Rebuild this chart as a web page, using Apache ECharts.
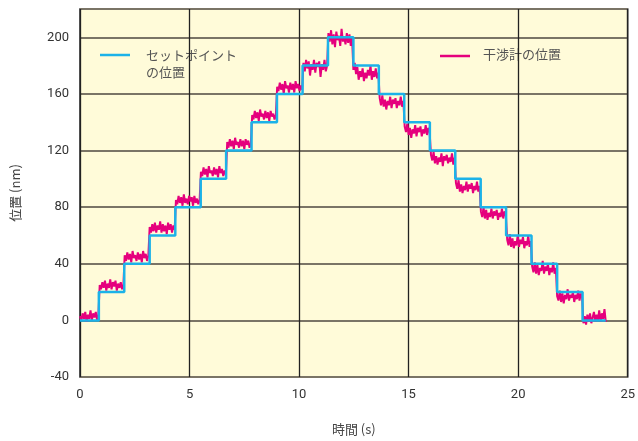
<!DOCTYPE html>
<html>
<head>
<meta charset="utf-8">
<script src="https://cdn.jsdelivr.net/npm/echarts@6/dist/echarts.min.js"></script>
<style>
  html, body { margin: 0; padding: 0; background: #ffffff; }
  #chart { width: 638px; height: 441px; }
</style>
</head>
<body>
<div id="chart"></div>
<script>
// Set-point staircase: time (s) of each 20 nm step and the level held after it
const stepTimes = [0.86, 2.02, 3.18, 4.35, 5.51, 6.67, 7.83, 8.99, 10.16, 11.32,
                   12.48, 13.64, 14.80, 15.97, 17.13, 18.29, 19.45, 20.61, 21.78, 22.94];
const stepLevels = [0, 20, 40, 60, 80, 100, 120, 140, 160, 180, 200,
                    180, 160, 140, 120, 100, 80, 60, 40, 20, 0];
const endTime = 24.0;

// Interferometer readings (nm), sampled every 0.06 s from t = 0
const sampleStep = 0.06;
const interferometer = [
  3, 0, 5, 1, 6, -1, 4, 1, 7, 0, 5, 2, 6, 0, 4,
  25, 22, 27, 23, 28, 21, 26, 23, 29, 22, 27, 24, 28, 21, 26, 23, 27, 22, 25,
  46, 42, 48, 43, 47, 41, 49, 44, 46, 42, 48, 43, 47, 41, 49, 44, 47, 42, 46,
  66, 62, 68, 63, 69, 62, 67, 64, 70, 62, 68, 63, 67, 61, 69, 64, 68, 62, 67, 64,
  85, 82, 88, 83, 87, 81, 89, 83, 86, 82, 88, 84, 87, 81, 88, 83, 86, 82, 85,
  105, 102, 108, 103, 107, 101, 109, 104, 106, 102, 108, 103, 107, 101, 109, 104, 107, 102, 106, 103,
  126, 122, 128, 123, 127, 121, 129, 124, 126, 122, 128, 123, 127, 121, 128, 124, 127, 122, 125,
  145, 142, 148, 143, 147, 141, 149, 144, 146, 142, 148, 143, 147, 141, 148, 144, 146, 142, 145,
  165, 162, 168, 163, 167, 160, 169, 164, 166, 161, 168, 163, 167, 161, 169, 164, 167, 162, 166, 163,
  182, 176, 184, 178, 183, 173, 181, 177, 184, 175, 182, 179, 183, 172, 181, 177, 184, 176, 180,
  203, 197, 205, 195, 202, 193, 204, 198, 201, 194, 206, 197, 200, 195, 203, 196, 202, 194, 199,
  177, 182, 174, 179, 170, 176, 172, 178, 169, 175, 171, 177, 173, 180, 170, 176, 172, 178, 171, 175,
  157, 152, 159, 151, 156, 149, 155, 152, 158, 150, 156, 153, 157, 150, 155, 152, 158, 151, 155,
  137, 133, 139, 131, 136, 129, 135, 132, 138, 130, 136, 133, 137, 130, 135, 132, 138, 131, 136, 133,
  117, 113, 119, 111, 116, 110, 115, 112, 118, 109, 116, 113, 117, 111, 115, 112, 118, 110, 115,
  97, 93, 99, 91, 96, 90, 95, 92, 98, 91, 96, 93, 97, 90, 95, 92, 98, 91, 95,
  77, 73, 80, 72, 78, 71, 76, 73, 79, 72, 77, 74, 78, 71, 76, 73, 79, 72, 77, 74,
  57, 53, 61, 52, 58, 51, 56, 53, 60, 52, 57, 54, 59, 51, 56, 53, 60, 52, 56,
  38, 34, 41, 33, 39, 32, 37, 35, 42, 33, 38, 35, 40, 32, 37, 34, 41, 33, 37,
  17, 14, 21, 13, 19, 12, 18, 15, 22, 14, 18, 16, 20, 13, 18, 15, 21, 14, 19, 16,
  -2, 3, -3, 4, -1, 5, -2, 2, 6, -1, 4, 0, 7, -1, 5, 1, 8, -1
];

const xTicks = [0, 5, 10, 15, 20, 25];
const yTicks = [-40, 0, 40, 80, 120, 160, 200];

const nameSetpoint = 'セットポイントの位置';
const nameInterf = '干渉計の位置';

// Build the staircase as [t, level] pairs with vertical risers
const setpointData = [[0, stepLevels[0]]];
stepTimes.forEach((t, i) => {
  setpointData.push([t, stepLevels[i]]);
  setpointData.push([t, stepLevels[i + 1]]);
});
setpointData.push([endTime, stepLevels[stepLevels.length - 1]]);

const interfData = interferometer.map((v, i) => [+(i * sampleStep).toFixed(2), v]);

const numFont = "Roboto, 'Liberation Sans', sans-serif";
const jpFont = "'Noto Sans CJK JP', sans-serif";

const chart = echarts.init(document.getElementById('chart'), null, { renderer: 'canvas' });
chart.setOption({
  animation: false,
  backgroundColor: '#ffffff',
  grid: {
    left: 80, right: 6, top: 9, bottom: 63,
    show: true, backgroundColor: '#fffbd9', borderColor: '#222', borderWidth: 1.5
  },
  xAxis: {
    type: 'value', min: 0, max: 25, interval: 5,
    name: '時間 (s)', nameLocation: 'middle', nameGap: 46,
    nameTextStyle: { fontFamily: jpFont, fontSize: 13, color: '#444' },
    axisLine: { show: false },
    axisTick: { show: false },
    axisLabel: {
      margin: 11, fontFamily: numFont, fontSize: 13, color: '#333',
      customValues: xTicks
    },
    splitLine: { show: true, lineStyle: { color: '#222', width: 1.3 } }
  },
  yAxis: {
    type: 'value', min: -40, max: 220, interval: 40,
    name: '位置 (nm)', nameLocation: 'middle', nameGap: 58,
    nameTextStyle: { fontFamily: jpFont, fontSize: 13, color: '#444' },
    axisLine: { show: false },
    axisTick: { show: false },
    axisLabel: {
      margin: 11, fontFamily: numFont, fontSize: 13, color: '#333',
      customValues: yTicks
    },
    splitLine: { show: true, lineStyle: { color: '#7a7466', width: 2 } }
  },
  graphic: [
    { type: 'line', shape: { x1: 100, y1: 55, x2: 130, y2: 55 },
      style: { stroke: '#1cb2e8', lineWidth: 2.5 } },
    { type: 'text', left: 146, top: 47,
      style: { text: 'セットポイント\nの位置', fill: '#555', font: "13px 'Noto Sans CJK JP'", lineHeight: 17 } },
    { type: 'line', shape: { x1: 440, y1: 56, x2: 470, y2: 56 },
      style: { stroke: '#e5007d', lineWidth: 2.5 } },
    { type: 'text', left: 483, top: 48,
      style: { text: '干渉計の位置', fill: '#555', font: "13px 'Noto Sans CJK JP'" } }
  ],
  series: [
    {
      name: nameInterf, type: 'line', data: interfData,
      showSymbol: false, symbol: 'none', z: 2,
      lineStyle: { color: '#e5007d', width: 2 }
    },
    {
      name: nameSetpoint, type: 'line', data: setpointData,
      showSymbol: false, symbol: 'none', z: 3,
      lineStyle: { color: '#1cb2e8', width: 2.5 }
    }
  ]
});
</script>
</body>
</html>
